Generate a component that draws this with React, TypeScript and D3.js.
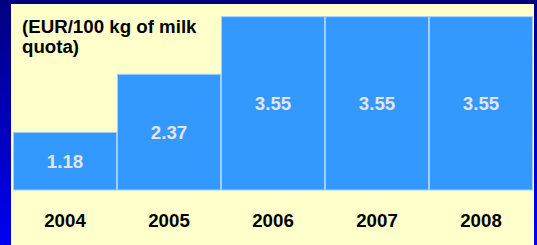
import { scaleBand, scaleLinear } from "d3"

const years = ["2004", "2005", "2006", "2007", "2008"]
const values = [1.18, 2.37, 3.55, 3.55, 3.55]
const titleLines = ["(EUR/100 kg of milk", "quota)"]

const WIDTH = 537
const HEIGHT = 245
const PANEL = { left: 11, top: 4, right: 534 }
const MARGIN = { left: 13, right: 4, top: 16.7, baseline: 190 }
const FONT = "'Liberation Sans', Arial, sans-serif"
const FONT_SIZE = 18.7

function App() {
    const xScale = scaleBand()
        .domain(years)
        .range([MARGIN.left, WIDTH - MARGIN.right])
        .padding(0)
    const yScale = scaleLinear()
        .domain([0, 3.55])
        .range([MARGIN.baseline, MARGIN.top])

    const bars = years.map((year, i) => {
        const x = xScale(year)
        if (x === undefined) return null
        const y = yScale(values[i])
        const h = yScale(0) - y
        return (
            <g key={year}>
                <rect
                    x={x + 0.5}
                    y={y}
                    width={xScale.bandwidth() - 1}
                    height={h}
                    fill="#3399ff"
                    stroke="#a6cdf5"
                    strokeWidth={1}
                />
                <text
                    x={x + xScale.bandwidth() / 2}
                    y={y + h / 2}
                    dy="0.36em"
                    textAnchor="middle"
                    fontSize={FONT_SIZE}
                    fontWeight="bold"
                    fill="#e4e4e4"
                >
                    {values[i].toFixed(2)}
                </text>
                <text
                    x={x + xScale.bandwidth() / 2}
                    y={226.5}
                    textAnchor="middle"
                    fontSize={FONT_SIZE}
                    fontWeight="bold"
                    fill="#000"
                >
                    {year}
                </text>
            </g>
        )
    })

    return (
        <svg
            width={WIDTH}
            height={HEIGHT}
            style={{ position: "absolute", left: 0, top: 0, fontFamily: FONT }}
        >
            <defs>
                <linearGradient id="bg" x1="0" y1="0" x2="0" y2="1">
                    <stop offset="0%" stopColor="#000080" />
                    <stop offset="100%" stopColor="#0000f2" />
                </linearGradient>
            </defs>
            <rect x={0} y={0} width={WIDTH} height={HEIGHT} fill="url(#bg)" />
            <rect
                x={PANEL.left}
                y={PANEL.top}
                width={PANEL.right - PANEL.left}
                height={HEIGHT - PANEL.top}
                fill="#ffffcc"
            />
            {bars}
            {titleLines.map((line, i) => (
                <text
                    key={i}
                    x={22}
                    y={33 + i * 19.5}
                    fontSize={FONT_SIZE}
                    fontWeight="bold"
                    fill="#000"
                >
                    {line}
                </text>
            ))}
        </svg>
    )
}

export default App
